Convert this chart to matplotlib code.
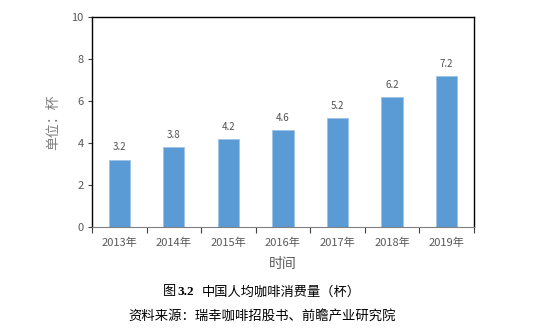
import matplotlib
matplotlib.use("Agg")
import matplotlib.pyplot as plt
import numpy as np

years = ["2013年", "2014年", "2015年", "2016年", "2017年", "2018年", "2019年"]
cups = [3.2, 3.8, 4.2, 4.6, 5.2, 6.2, 7.2]
yticks = [0, 2, 4, 6, 8, 10]

plt.rcParams['font.family'] = ['Noto Sans CJK SC', 'DejaVu Sans']

W, H = 541, 329
fig = plt.figure(figsize=(W / 100, H / 100), dpi=100)
ax = fig.add_axes([0.170, 0.310, 0.706, 0.638])

x = np.arange(len(years))
bar_color = "#5B9BD5"
ax.bar(x, cups, width=0.39, color=bar_color, edgecolor="#9DC3E6", linewidth=0.6)

for xi, v in zip(x, cups):
    ax.text(xi, v + 0.35, f"{v:.1f}", ha="center", va="bottom",
            fontsize=7, color="#505050")

ax.set_xlim(-0.5, len(years) - 0.5)
ax.set_ylim(0, 10)
ax.set_yticks(yticks)
ax.set_yticklabels([str(t) for t in yticks], fontsize=8, color="#595959")

ax.set_xticks(x)
ax.set_xticklabels(years, fontsize=8, color="#595959")
ax.tick_params(axis="x", which="major", length=0, pad=8)
ax.set_xticks(np.arange(-0.5, len(years)), minor=True)
ax.tick_params(axis="x", which="minor", length=4, width=0.8, color="#404040", direction="out")
ax.tick_params(axis="y", length=3, width=0.8, color="#404040", direction="out", pad=3)

for side in ["left", "top", "right"]:
    ax.spines[side].set_color("black")
    ax.spines[side].set_linewidth(1.0)
ax.spines["bottom"].set_color("#808080")
ax.spines["bottom"].set_linewidth(0.8)

ax.set_ylabel("单位：杯", fontsize=10, color="#808080", labelpad=8)
ax.set_xlabel("时间", fontsize=10, color="#595959", labelpad=6)

cap_y = 1 - 292 / H
fig.text(163 / W, cap_y, "图", ha="left", va="center", fontsize=9.5, color="black")
fig.text(177 / W, cap_y, "3.2", ha="left", va="center", fontsize=9.5, color="black",
         family="Liberation Serif", weight="bold")
fig.text(202 / W, cap_y, "中国人均咖啡消费量（杯）", ha="left", va="center",
         fontsize=9.5, color="black")
fig.text(262 / W, 1 - 317 / H, "资料来源：瑞幸咖啡招股书、前瞻产业研究院", ha="center", va="center",
         fontsize=9.6, color="black")

fig.savefig("out.png", dpi=100)
